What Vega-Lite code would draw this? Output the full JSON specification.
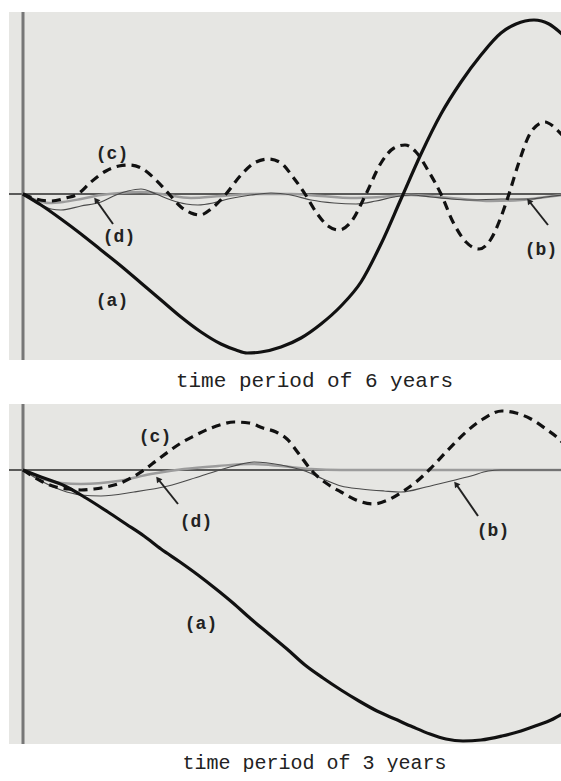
{
  "$schema": "https://vega.github.io/schema/vega-lite/v6.json",
  "background": "white",
  "padding": {"left": 8, "top": 10, "right": 0, "bottom": 0},
  "config": {
    "view": {"stroke": null, "fill": "#e6e6e3"},
    "concat": {"spacing": 12}
  },
  "datasets": {
    "top": [
      {"s":"a","x":0,"y":0},{"s":"a","x":18,"y":-11},{"s":"a","x":38,"y":-25},{"s":"a","x":58,"y":-40},{"s":"a","x":78,"y":-56},{"s":"a","x":98,"y":-72},{"s":"a","x":118,"y":-89},{"s":"a","x":138,"y":-106},{"s":"a","x":158,"y":-123},{"s":"a","x":178,"y":-138},{"s":"a","x":198,"y":-150},{"s":"a","x":213,"y":-156},{"s":"a","x":224,"y":-159},{"s":"a","x":238,"y":-158},{"s":"a","x":258,"y":-153},{"s":"a","x":278,"y":-144},{"s":"a","x":298,"y":-130},{"s":"a","x":318,"y":-112},{"s":"a","x":338,"y":-88},{"s":"a","x":358,"y":-50},{"s":"a","x":378,"y":-5},{"s":"a","x":398,"y":40},{"s":"a","x":418,"y":80},{"s":"a","x":438,"y":112},{"s":"a","x":458,"y":139},{"s":"a","x":478,"y":161},{"s":"a","x":493,"y":170},{"s":"a","x":511,"y":174},{"s":"a","x":526,"y":170},{"s":"a","x":539,"y":160},
      {"s":"c","x":0,"y":0},{"s":"c","x":13,"y":-5},{"s":"c","x":28,"y":-7},{"s":"c","x":43,"y":-4},{"s":"c","x":55,"y":0},{"s":"c","x":68,"y":12},{"s":"c","x":83,"y":23},{"s":"c","x":96,"y":28},{"s":"c","x":107,"y":29},{"s":"c","x":118,"y":26},{"s":"c","x":133,"y":14},{"s":"c","x":146,"y":0},{"s":"c","x":158,"y":-13},{"s":"c","x":168,"y":-19},{"s":"c","x":177,"y":-21},{"s":"c","x":188,"y":-15},{"s":"c","x":203,"y":0},{"s":"c","x":218,"y":19},{"s":"c","x":233,"y":32},{"s":"c","x":246,"y":35},{"s":"c","x":258,"y":31},{"s":"c","x":270,"y":17},{"s":"c","x":282,"y":0},{"s":"c","x":293,"y":-18},{"s":"c","x":305,"y":-32},{"s":"c","x":316,"y":-36},{"s":"c","x":328,"y":-28},{"s":"c","x":343,"y":0},{"s":"c","x":358,"y":31},{"s":"c","x":371,"y":46},{"s":"c","x":382,"y":49},{"s":"c","x":393,"y":42},{"s":"c","x":406,"y":22},{"s":"c","x":418,"y":0},{"s":"c","x":430,"y":-28},{"s":"c","x":443,"y":-48},{"s":"c","x":456,"y":-55},{"s":"c","x":468,"y":-45},{"s":"c","x":478,"y":-23},{"s":"c","x":486,"y":0},{"s":"c","x":496,"y":32},{"s":"c","x":508,"y":62},{"s":"c","x":522,"y":72},{"s":"c","x":531,"y":67},{"s":"c","x":539,"y":59},
      {"s":"b","x":0,"y":0},{"s":"b","x":13,"y":-8},{"s":"b","x":28,"y":-15},{"s":"b","x":38,"y":-16},{"s":"b","x":58,"y":-12},{"s":"b","x":78,"y":-8},{"s":"b","x":93,"y":-1},{"s":"b","x":105,"y":3},{"s":"b","x":118,"y":5},{"s":"b","x":133,"y":0},{"s":"b","x":148,"y":-6},{"s":"b","x":163,"y":-10},{"s":"b","x":175,"y":-11},{"s":"b","x":190,"y":-9},{"s":"b","x":205,"y":-5},{"s":"b","x":228,"y":-1},{"s":"b","x":248,"y":1},{"s":"b","x":268,"y":-1},{"s":"b","x":288,"y":-6},{"s":"b","x":311,"y":-9},{"s":"b","x":333,"y":-10},{"s":"b","x":353,"y":-7},{"s":"b","x":371,"y":-3},{"s":"b","x":388,"y":-1},{"s":"b","x":408,"y":-3},{"s":"b","x":428,"y":-5},{"s":"b","x":448,"y":-6},{"s":"b","x":478,"y":-5},{"s":"b","x":506,"y":-5},{"s":"b","x":523,"y":-3},{"s":"b","x":539,"y":-1},
      {"s":"d","x":0,"y":0},{"s":"d","x":13,"y":-6},{"s":"d","x":26,"y":-9},{"s":"d","x":40,"y":-8},{"s":"d","x":58,"y":-5},{"s":"d","x":78,"y":-1},{"s":"d","x":98,"y":1},{"s":"d","x":118,"y":2},{"s":"d","x":138,"y":0},{"s":"d","x":168,"y":-4},{"s":"d","x":198,"y":-2},{"s":"d","x":228,"y":0},{"s":"d","x":268,"y":0},{"s":"d","x":298,"y":-2},{"s":"d","x":328,"y":-4},{"s":"d","x":358,"y":-3},{"s":"d","x":388,"y":-1},{"s":"d","x":428,"y":-4},{"s":"d","x":468,"y":-7},{"s":"d","x":498,"y":-6},{"s":"d","x":523,"y":-3},{"s":"d","x":539,"y":-1}
    ],
    "topLabels": [
      {"t":"(c)","x":89,"y":40},{"t":"(d)","x":96,"y":-43},{"t":"(a)","x":89,"y":-107},{"t":"(b)","x":518,"y":-56}
    ],
    "topArrows": [
      {"x":90,"y":-30,"x2":73,"y2":-6},{"x":525,"y":-31,"x2":506,"y2":-7}
    ],
    "bot": [
      {"s":"a","x":0,"y":0},{"s":"a","x":18,"y":-7},{"s":"a","x":42,"y":-16},{"s":"a","x":63,"y":-28},{"s":"a","x":85,"y":-42},{"s":"a","x":103,"y":-54},{"s":"a","x":121,"y":-66},{"s":"a","x":138,"y":-79},{"s":"a","x":157,"y":-92},{"s":"a","x":175,"y":-105},{"s":"a","x":193,"y":-119},{"s":"a","x":210,"y":-133},{"s":"a","x":228,"y":-149},{"s":"a","x":246,"y":-164},{"s":"a","x":264,"y":-179},{"s":"a","x":282,"y":-195},{"s":"a","x":300,"y":-208},{"s":"a","x":318,"y":-220},{"s":"a","x":336,"y":-231},{"s":"a","x":354,"y":-241},{"s":"a","x":372,"y":-249},{"s":"a","x":390,"y":-257},{"s":"a","x":407,"y":-264},{"s":"a","x":423,"y":-269},{"s":"a","x":440,"y":-271},{"s":"a","x":458,"y":-270},{"s":"a","x":479,"y":-266},{"s":"a","x":498,"y":-261},{"s":"a","x":515,"y":-255},{"s":"a","x":528,"y":-250},{"s":"a","x":539,"y":-244},
      {"s":"c","x":0,"y":0},{"s":"c","x":18,"y":-11},{"s":"c","x":33,"y":-17},{"s":"c","x":45,"y":-19},{"s":"c","x":58,"y":-20},{"s":"c","x":71,"y":-19},{"s":"c","x":83,"y":-17},{"s":"c","x":95,"y":-14},{"s":"c","x":108,"y":-8},{"s":"c","x":121,"y":0},{"s":"c","x":133,"y":9},{"s":"c","x":145,"y":18},{"s":"c","x":158,"y":27},{"s":"c","x":171,"y":34},{"s":"c","x":188,"y":42},{"s":"c","x":200,"y":46},{"s":"c","x":211,"y":48},{"s":"c","x":226,"y":47},{"s":"c","x":240,"y":42},{"s":"c","x":253,"y":38},{"s":"c","x":264,"y":31},{"s":"c","x":276,"y":16},{"s":"c","x":289,"y":-1},{"s":"c","x":303,"y":-13},{"s":"c","x":318,"y":-22},{"s":"c","x":333,"y":-30},{"s":"c","x":350,"y":-34},{"s":"c","x":365,"y":-30},{"s":"c","x":379,"y":-22},{"s":"c","x":393,"y":-12},{"s":"c","x":407,"y":1},{"s":"c","x":425,"y":20},{"s":"c","x":443,"y":38},{"s":"c","x":460,"y":51},{"s":"c","x":479,"y":59},{"s":"c","x":493,"y":57},{"s":"c","x":508,"y":51},{"s":"c","x":523,"y":41},{"s":"c","x":536,"y":31},{"s":"c","x":539,"y":28},
      {"s":"b","x":0,"y":0},{"s":"b","x":18,"y":-11},{"s":"b","x":38,"y":-20},{"s":"b","x":58,"y":-25},{"s":"b","x":78,"y":-26},{"s":"b","x":111,"y":-22},{"s":"b","x":145,"y":-16},{"s":"b","x":178,"y":-6},{"s":"b","x":211,"y":4},{"s":"b","x":231,"y":8},{"s":"b","x":258,"y":5},{"s":"b","x":282,"y":-1},{"s":"b","x":300,"y":-9},{"s":"b","x":318,"y":-16},{"s":"b","x":338,"y":-19},{"s":"b","x":361,"y":-21},{"s":"b","x":378,"y":-22},{"s":"b","x":403,"y":-17},{"s":"b","x":428,"y":-11},{"s":"b","x":448,"y":-6},{"s":"b","x":465,"y":-1},{"s":"b","x":478,"y":0},{"s":"b","x":539,"y":0},
      {"s":"d","x":0,"y":0},{"s":"d","x":18,"y":-8},{"s":"d","x":38,"y":-13},{"s":"d","x":58,"y":-14},{"s":"d","x":95,"y":-11},{"s":"d","x":128,"y":-4},{"s":"d","x":161,"y":1},{"s":"d","x":195,"y":4},{"s":"d","x":228,"y":6},{"s":"d","x":258,"y":4},{"s":"d","x":288,"y":1},{"s":"d","x":318,"y":0},{"s":"d","x":539,"y":0}
    ],
    "botLabels": [
      {"t":"(c)","x":132,"y":33},{"t":"(d)","x":173,"y":-52},{"t":"(b)","x":470,"y":-61},{"t":"(a)","x":178,"y":-154}
    ],
    "botArrows": [
      {"x":155,"y":-34,"x2":135,"y2":-9},{"x":455,"y":-46,"x2":433,"y2":-14}
    ],
    "zero": [{"z":0}]
  },
  "vconcat": [
    {
      "width": 553,
      "height": 348,
      "layer": [
        {"data":{"name":"zero"},"mark":{"type":"rule","color":"#2b2b2b","strokeWidth":1.3},
         "encoding":{"y":{"field":"z","type":"quantitative","scale":{"domain":[-166,182],"nice":false,"zero":false},"axis":null}}},
        {"data":{"name":"zero"},"mark":{"type":"rule","color":"#777777","strokeWidth":3},
         "encoding":{"x":{"field":"z","type":"quantitative","scale":{"domain":[-14,539],"nice":false,"zero":false},
           "axis":{"title":"time period of 6 years","labels":false,"ticks":false,"domain":false,"grid":false,"titleFont":"Liberation Mono","titleFontSize":21,"titleFontWeight":"normal","titleColor":"#222222","titlePadding":9,"titleX":305}}}},
        {"data":{"name":"top"},"transform":[{"filter":"datum.s === 'd'"}],"mark":{"type":"line","color":"#9c9c9c","strokeWidth":2.5,"interpolate":"monotone"},
         "encoding":{"x":{"field":"x","type":"quantitative"},"y":{"field":"y","type":"quantitative"}}},
        {"data":{"name":"top"},"transform":[{"filter":"datum.s === 'b'"}],"mark":{"type":"line","color":"#4a4a4a","strokeWidth":1.2,"interpolate":"monotone"},
         "encoding":{"x":{"field":"x","type":"quantitative"},"y":{"field":"y","type":"quantitative"}}},
        {"data":{"name":"top"},"transform":[{"filter":"datum.s === 'c'"}],"mark":{"type":"line","color":"#111111","strokeWidth":3.2,"strokeDash":[9,6],"strokeCap":"butt","interpolate":"monotone"},
         "encoding":{"x":{"field":"x","type":"quantitative"},"y":{"field":"y","type":"quantitative"}}},
        {"data":{"name":"top"},"transform":[{"filter":"datum.s === 'a'"}],"mark":{"type":"line","color":"#111111","strokeWidth":3.2,"interpolate":"monotone"},
         "encoding":{"x":{"field":"x","type":"quantitative"},"y":{"field":"y","type":"quantitative"}}},
        {"data":{"name":"topArrows"},"mark":{"type":"rule","color":"#222222","strokeWidth":2},
         "encoding":{"x":{"field":"x","type":"quantitative"},"y":{"field":"y","type":"quantitative"},"x2":{"field":"x2"},"y2":{"field":"y2"}}},
        {"data":{"name":"topArrows"},"mark":{"type":"point","shape":"triangle-up","filled":true,"color":"#222222","size":45,"angle":323,"opacity":1},
         "encoding":{"x":{"field":"x2","type":"quantitative"},"y":{"field":"y2","type":"quantitative"}}},
        {"data":{"name":"topLabels"},"mark":{"type":"text","font":"Liberation Mono","fontSize":18,"fontWeight":"bold","color":"#222222"},
         "encoding":{"x":{"field":"x","type":"quantitative"},"y":{"field":"y","type":"quantitative"},"text":{"field":"t"}}}
      ]
    },
    {
      "width": 553,
      "height": 340,
      "layer": [
        {"data":{"name":"zero"},"mark":{"type":"rule","color":"#2b2b2b","strokeWidth":1.3},
         "encoding":{"y":{"field":"z","type":"quantitative","scale":{"domain":[-274,66],"nice":false,"zero":false},"axis":null}}},
        {"data":{"name":"zero"},"mark":{"type":"rule","color":"#777777","strokeWidth":3},
         "encoding":{"x":{"field":"z","type":"quantitative","scale":{"domain":[-14,539],"nice":false,"zero":false},
           "axis":{"title":"time period of 3 years","labels":false,"ticks":false,"domain":false,"grid":false,"titleFont":"Liberation Mono","titleFontSize":20,"titleFontWeight":"normal","titleColor":"#222222","titlePadding":8,"titleX":305}}}},
        {"data":{"name":"bot"},"transform":[{"filter":"datum.s === 'd'"}],"mark":{"type":"line","color":"#9c9c9c","strokeWidth":2.5,"interpolate":"monotone"},
         "encoding":{"x":{"field":"x","type":"quantitative"},"y":{"field":"y","type":"quantitative"}}},
        {"data":{"name":"bot"},"transform":[{"filter":"datum.s === 'b'"}],"mark":{"type":"line","color":"#4a4a4a","strokeWidth":1.2,"interpolate":"monotone"},
         "encoding":{"x":{"field":"x","type":"quantitative"},"y":{"field":"y","type":"quantitative"}}},
        {"data":{"name":"bot"},"transform":[{"filter":"datum.s === 'c'"}],"mark":{"type":"line","color":"#111111","strokeWidth":3.2,"strokeDash":[9,6],"strokeCap":"butt","interpolate":"monotone"},
         "encoding":{"x":{"field":"x","type":"quantitative"},"y":{"field":"y","type":"quantitative"}}},
        {"data":{"name":"bot"},"transform":[{"filter":"datum.s === 'a'"}],"mark":{"type":"line","color":"#111111","strokeWidth":3.2,"interpolate":"monotone"},
         "encoding":{"x":{"field":"x","type":"quantitative"},"y":{"field":"y","type":"quantitative"}}},
        {"data":{"name":"botArrows"},"mark":{"type":"rule","color":"#222222","strokeWidth":2},
         "encoding":{"x":{"field":"x","type":"quantitative"},"y":{"field":"y","type":"quantitative"},"x2":{"field":"x2"},"y2":{"field":"y2"}}},
        {"data":{"name":"botArrows"},"mark":{"type":"point","shape":"triangle-up","filled":true,"color":"#222222","size":45,"angle":323,"opacity":1},
         "encoding":{"x":{"field":"x2","type":"quantitative"},"y":{"field":"y2","type":"quantitative"}}},
        {"data":{"name":"botLabels"},"mark":{"type":"text","font":"Liberation Mono","fontSize":18,"fontWeight":"bold","color":"#222222"},
         "encoding":{"x":{"field":"x","type":"quantitative"},"y":{"field":"y","type":"quantitative"},"text":{"field":"t"}}}
      ]
    }
  ]
}
